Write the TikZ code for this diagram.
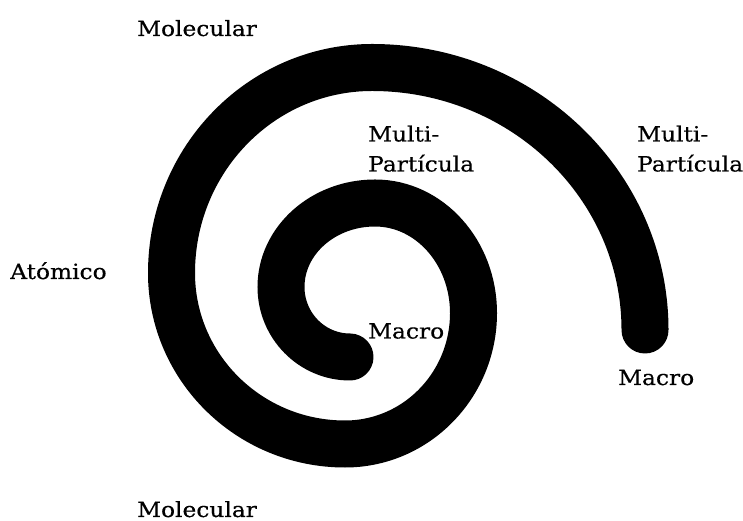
\documentclass[tikz,border=0pt]{standalone}
\usepackage{fontspec}
\setmainfont{DejaVu Serif}[FakeStretch=1.11,FakeBold=0.4]
\begin{document}
\begin{tikzpicture}[x=1pt,y=1pt,
  spiral/.style={draw=black,line width=47pt,line cap=round},
  lbl/.style={inner sep=0pt,anchor=base west,font=\fontsize{21}{30}\selectfont}]
\useasboundingbox (0,0) rectangle (743,521);
% spiral (y-up coordinates: Y = 521 - pixel y)
\coordinate (e0) at (350,164);
\draw[spiral] (e0)
  arc[start angle=270,end angle=180,x radius=69,y radius=70]
  arc[start angle=180,end angle=90,x radius=94,y radius=84]
  arc[start angle=90,end angle=0,x radius=98.5,y radius=110]
  arc[start angle=0,end angle=-90,x radius=128.5,y radius=131]
  arc[start angle=-90,end angle=-180,x radius=173.5,y radius=171]
  arc[start angle=-180,end angle=-270,x radius=200.5,y radius=205.5]
  arc[start angle=-270,end angle=-360,x radius=273,y radius=262.5] coordinate (e2);
% labels
\node[lbl] (moltop) at (137,485) {Molecular};
\node[lbl] (molbot) at (137,4) {Molecular};
\node[lbl] (atom) at (10,242) {Atómico};
\node[lbl] (mpin1) at (368,379.5) {Multi-};
\node[lbl] (mpin2) at (368,349.5) {Partícula};
\node[lbl] (mpout1) at (637,379.5) {Multi-};
\node[lbl] (mpout2) at (637,349.5) {Partícula};
\node[lbl] (macin) at (368,182.5) {Macro};
\node[lbl] (macout) at (618,136) {Macro};
\end{tikzpicture}
\end{document}
